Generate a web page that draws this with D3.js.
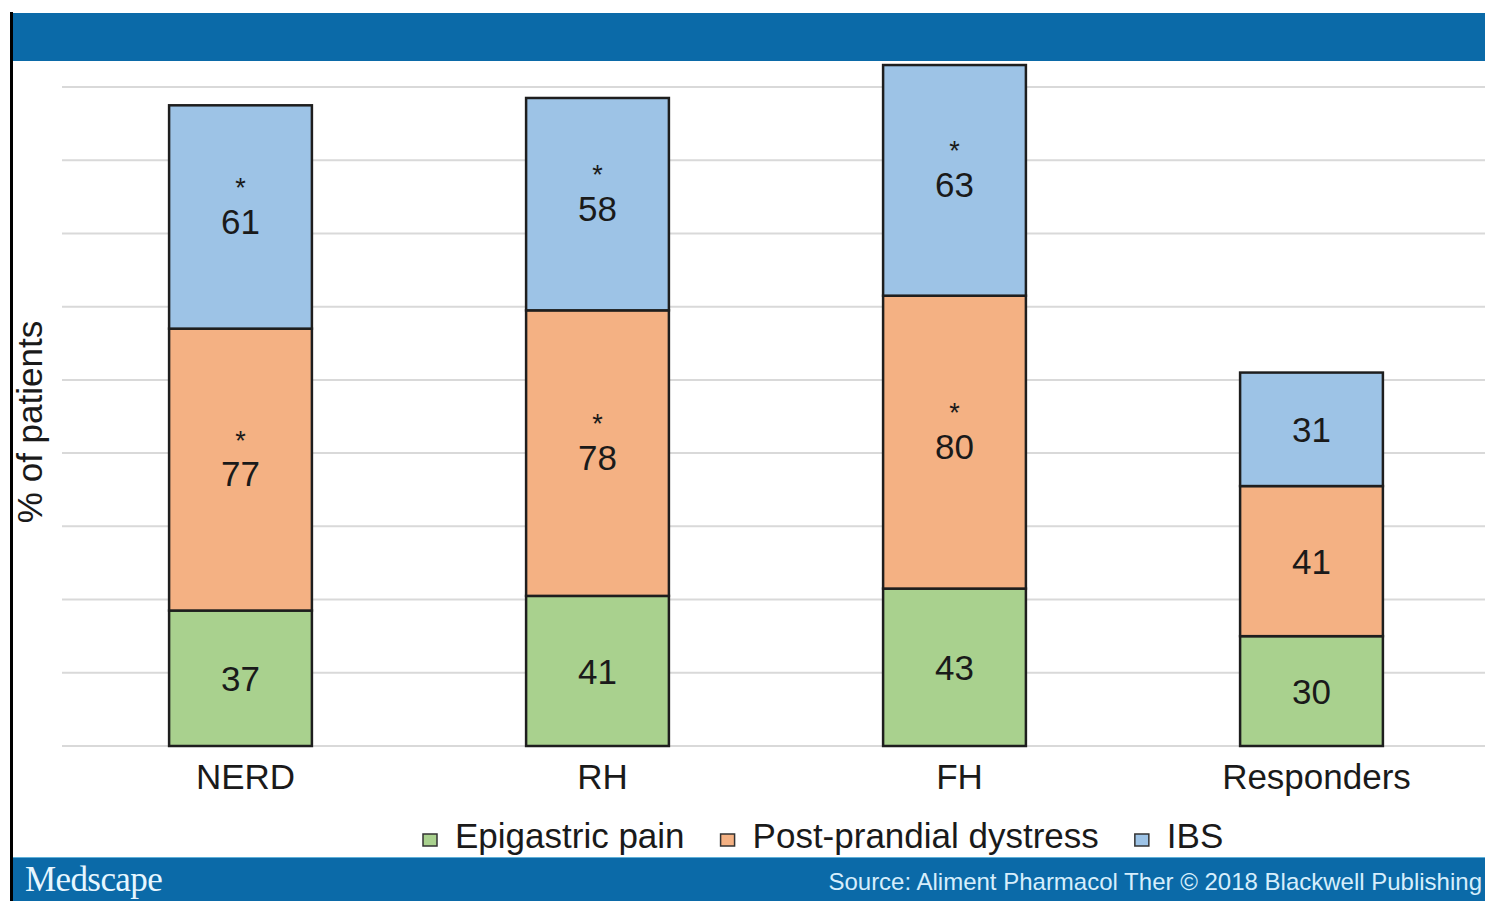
<!DOCTYPE html>
<html>
<head>
<meta charset="utf-8">
<script src="https://cdn.jsdelivr.net/npm/d3@7"></script>
<style>
  html, body { margin: 0; padding: 0; background: #fff; }
  svg { display: block; font-family: "Liberation Sans", Arial, sans-serif; }
</style>
</head>
<body>
<svg id="chart" width="1485" height="901"></svg>
<script>
// Symptom overlap by reflux phenotype (% of patients)
const categories = ["NERD", "RH", "FH", "Responders"];
const seriesNames = ["Epigastric pain", "Post-prandial dystress", "IBS"];
const epigastricPain = [37, 41, 43, 30];
const postPrandialDystress = [77, 78, 80, 41];
const ibs = [61, 58, 63, 31];
// significance markers per series and category
const starEpigastric = [false, false, false, false];
const starPostPrandial = [true, true, true, false];
const starIBS = [true, true, true, false];
const yTicks = [0, 20, 40, 60, 80, 100, 120, 140, 160, 180];

const colors = ["#a9d18e", "#f4b183", "#9dc3e6"];
const seriesValues = [epigastricPain, postPrandialDystress, ibs];
const seriesStars = [starEpigastric, starPostPrandial, starIBS];

const svg = d3.select("#chart");
const W = 1485, H = 901;
const bannerColor = "#0b6aa8";

// header / footer bands
svg.append("rect").attr("x", 12).attr("y", 13).attr("width", W - 12).attr("height", 48).attr("fill", bannerColor);
svg.append("rect").attr("x", 12).attr("y", 857).attr("width", W - 12).attr("height", H - 857).attr("fill", bannerColor);
svg.append("line").attr("x1", 12).attr("x2", W).attr("y1", 857.5).attr("y2", 857.5)
  .attr("stroke", "#5fb0d8").attr("stroke-width", 1);
svg.append("rect").attr("x", 10).attr("y", 12).attr("width", 3).attr("height", H - 12).attr("fill", "#000");

const x = d3.scaleBand().domain(categories).range([62, 1490]).paddingInner(0.6).paddingOuter(0.3);
const y = d3.scaleLinear().domain([0, 180]).range([746, 87]);

// horizontal gridlines
svg.append("g").selectAll("line").data(yTicks).join("line")
  .attr("x1", 62).attr("x2", W)
  .attr("y1", d => y(d)).attr("y2", d => y(d))
  .attr("stroke", "#d9d9d9").attr("stroke-width", 2);

// stacked data
const rows = categories.map((c, i) => {
  const r = { category: c };
  seriesNames.forEach((s, k) => { r[s] = seriesValues[k][i]; });
  return r;
});
const stacked = d3.stack().keys(seriesNames)(rows);

const groups = svg.append("g").selectAll("g").data(stacked).join("g")
  .attr("fill", (d, k) => colors[k]);

groups.selectAll("rect").data(d => d).join("rect")
  .attr("x", d => x(d.data.category))
  .attr("width", x.bandwidth())
  .attr("y", d => y(d[1]))
  .attr("height", d => y(d[0]) - y(d[1]))
  .attr("stroke", "#1e1e1e").attr("stroke-width", 2.5);

// value labels with significance asterisks
const labels = svg.append("g").attr("fill", "#1a1a1a").attr("text-anchor", "middle");
stacked.forEach((layer, k) => {
  layer.forEach((d, i) => {
    const cx = x(d.data.category) + x.bandwidth() / 2;
    const star = seriesStars[k][i];
    const cy = (y(d[0]) + y(d[1])) / 2 + (star ? 4 : 0);
    labels.append("text")
      .attr("x", cx).attr("y", cy)
      .attr("dy", "0.36em")
      .attr("font-size", 35)
      .text(seriesValues[k][i]);
    if (star) {
      labels.append("text")
        .attr("x", cx).attr("y", cy - 24)
        .attr("font-size", 27)
        .text("*");
    }
  });
});

// category axis labels
svg.append("g").selectAll("text").data(categories).join("text")
  .attr("x", d => x(d) + x.bandwidth() / 2 + 5)
  .attr("y", 789)
  .attr("text-anchor", "middle")
  .attr("font-size", 35)
  .attr("fill", "#1a1a1a")
  .text(d => d);

// y axis title
svg.append("text")
  .attr("transform", "translate(42,422) rotate(-90)")
  .attr("text-anchor", "middle")
  .attr("font-size", 35)
  .attr("fill", "#1a1a1a")
  .text("% of patients");

// legend
const legend = svg.append("g");
let lx = 423;
seriesNames.forEach((s, k) => {
  legend.append("rect")
    .attr("x", lx).attr("y", 834).attr("width", 14).attr("height", 12)
    .attr("fill", colors[k]).attr("stroke", "#333").attr("stroke-width", 1.5);
  const t = legend.append("text")
    .attr("x", lx + 32).attr("y", 848)
    .attr("font-size", 35).attr("fill", "#1a1a1a")
    .text(s);
  lx += 32 + t.node().getComputedTextLength() + 36;
});

// footer texts
svg.append("text")
  .attr("x", 25).attr("y", 891)
  .attr("font-family", "'Liberation Serif', 'Times New Roman', serif")
  .attr("font-size", 35).attr("letter-spacing", -0.6)
  .attr("fill", "#e6f6ff")
  .text("Medscape");
svg.append("text")
  .attr("x", 1482).attr("y", 890)
  .attr("text-anchor", "end")
  .attr("font-size", 24)
  .attr("fill", "#d6eefc")
  .text("Source: Aliment Pharmacol Ther \u00A9 2018 Blackwell Publishing");
</script>
</body>
</html>
